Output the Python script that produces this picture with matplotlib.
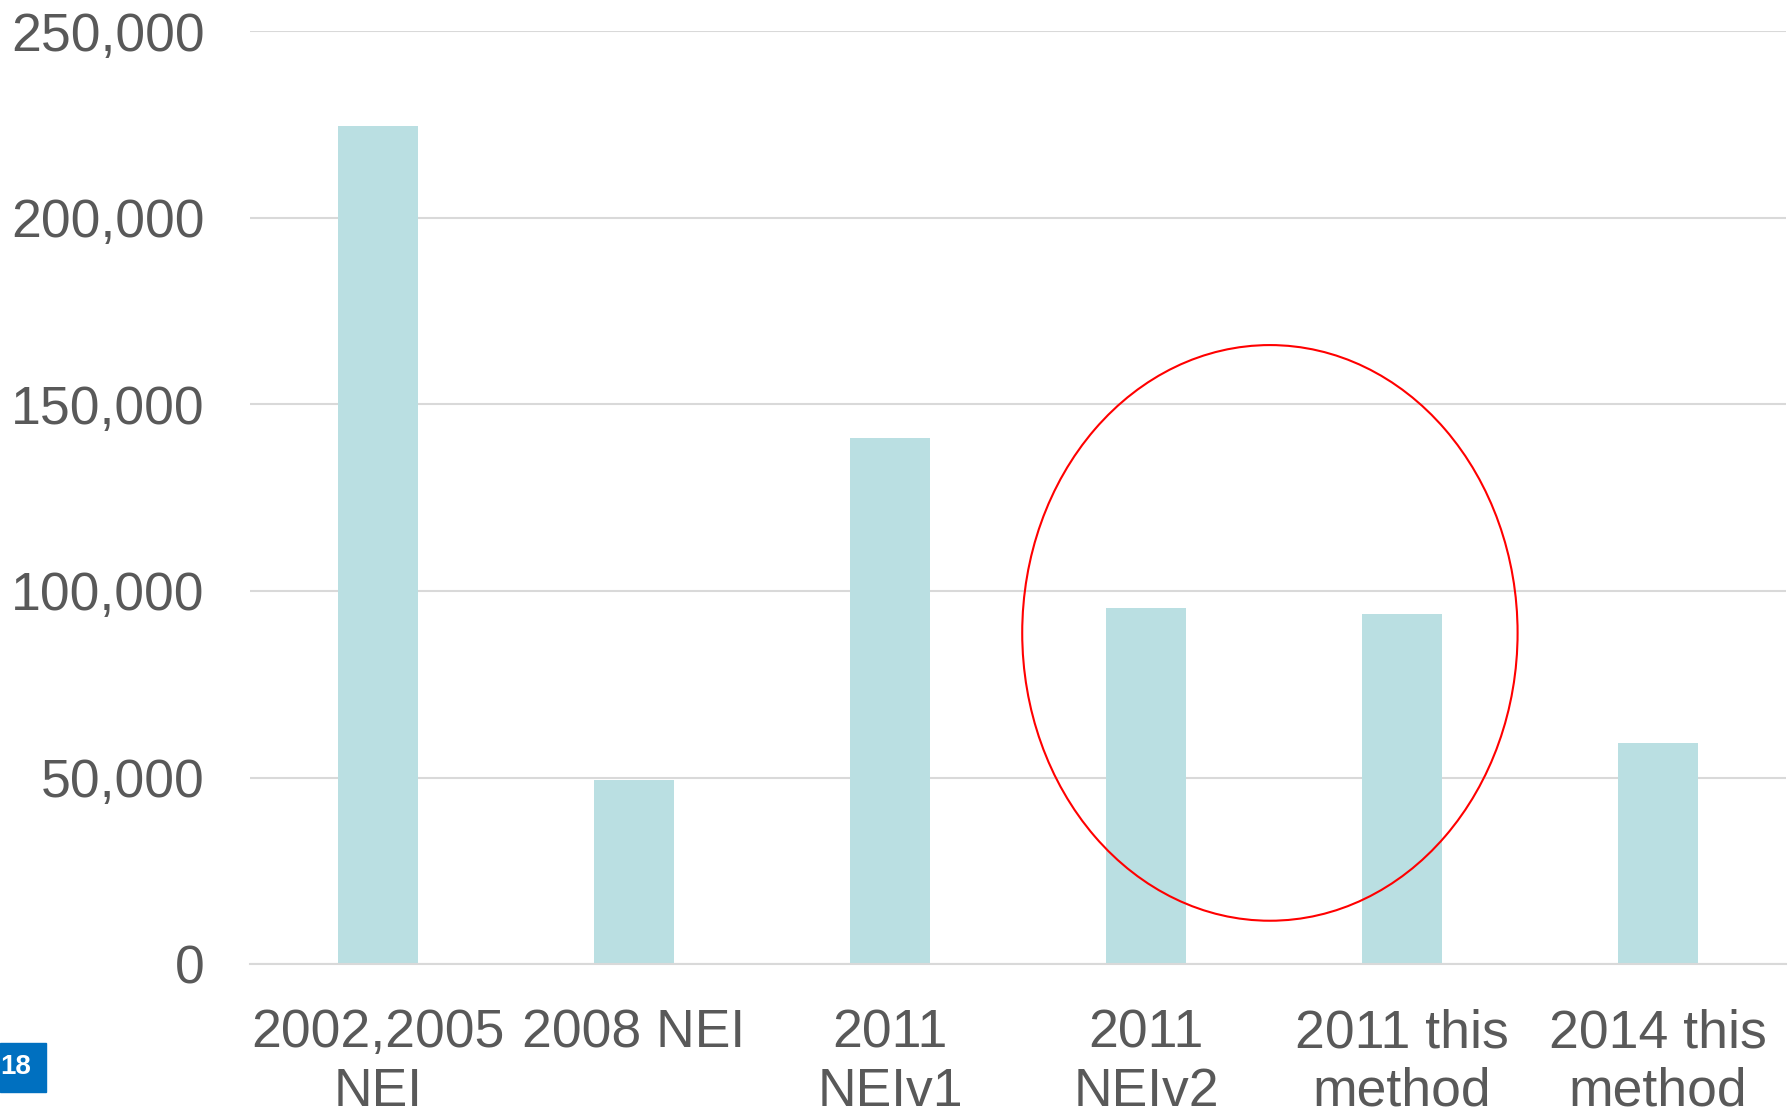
import matplotlib
matplotlib.use("Agg")
import matplotlib.pyplot as plt
from matplotlib.patches import Ellipse, Rectangle
import numpy as np

categories = ["2002,2005\nNEI", "2008 NEI", "2011\nNEIv1", "2011\nNEIv2",
              "2011 this\nmethod", "2014 this\nmethod"]
values = [224500, 49500, 141000, 95500, 93700, 59200]
yticks = [0, 50000, 100000, 150000, 200000, 250000]
ytick_labels = ["0", "50,000", "100,000", "150,000", "200,000", "250,000"]
page_number = "18"

plt.rcParams['font.family'] = ['Liberation Sans', 'DejaVu Sans']

W, H = 1792, 1112
fig = plt.figure(figsize=(W / 100, H / 100), dpi=100)
ax = fig.add_axes([250 / W, 1 - 964.3 / H, (1786 - 250) / W, (964.3 - 31) / H])

x = np.arange(len(categories))
ax.bar(x, values, width=0.314, color="#BADFE2", zorder=2)

ax.set_xlim(-0.5, len(categories) - 0.5)
ax.set_ylim(0, 250000)
ax.set_yticks(yticks)
ax.set_yticklabels(ytick_labels)
ax.set_xticks(x)
ax.set_xticklabels(categories, linespacing=1.22)

ax.grid(axis="y", color="#D9D9D9", linewidth=1.5, zorder=0)
ax.set_axisbelow(True)
for s in ["top", "right", "left"]:
    ax.spines[s].set_visible(False)
ax.spines["bottom"].set_color("#D9D9D9")
ax.spines["bottom"].set_linewidth(1.5)
ax.tick_params(axis="y", length=0, pad=32.5, labelsize=38.5, labelcolor="#595959")
ax.tick_params(axis="x", length=0, pad=31.5, labelsize=38.5, labelcolor="#595959")

ell = Ellipse((3.484, 88770), width=1.935, height=154200, fill=False,
              edgecolor="#FF0000", linewidth=1.5, zorder=3, clip_on=False)
ax.add_patch(ell)

fig.patches.append(Rectangle((0, 1 - 1092 / H), 46 / W, 49 / H,
                             transform=fig.transFigure, color="#0070C0"))
fig.text(16 / W, 1 - 1067.5 / H, page_number, color="white", fontsize=20,
         fontweight="bold", ha="center", va="center")

fig.savefig("out.png", dpi=100, facecolor="white")
